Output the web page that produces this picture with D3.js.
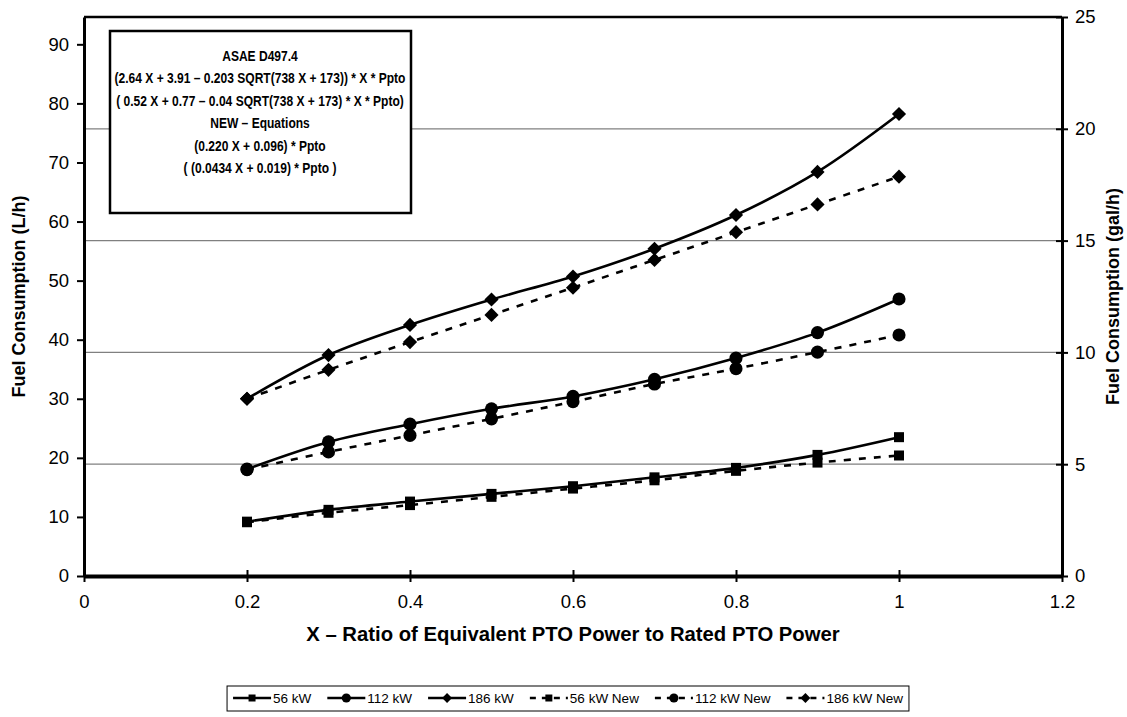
<!DOCTYPE html>
<html>
<head>
<meta charset="utf-8">
<script src="https://cdn.jsdelivr.net/npm/d3@7"></script>
<style>
  body { margin: 0; background: #fff; }
  svg text { font-family: "Liberation Sans", Arial, sans-serif; fill: #000; }
</style>
</head>
<body>
<svg id="chart" width="1127" height="717"></svg>
<script>
// data, fuel use in L/h
const ratio = [0.2, 0.3, 0.4, 0.5, 0.6, 0.7, 0.8, 0.9, 1.0];
const kw56 = [9.2, 11.2, 12.6, 13.9, 15.2, 16.7, 18.3, 20.5, 23.5];
const kw112 = [18.1, 22.7, 25.7, 28.3, 30.4, 33.3, 36.9, 41.2, 46.9];
const kw186 = [30.0, 37.4, 42.5, 46.8, 50.7, 55.4, 61.1, 68.4, 78.2];
const kw56New = [9.1, 10.7, 12.0, 13.4, 14.8, 16.2, 17.8, 19.2, 20.4];
const kw112New = [18.0, 21.0, 23.8, 26.6, 29.5, 32.5, 35.1, 37.9, 40.8];
const kw186New = [30.0, 34.9, 39.6, 44.2, 48.8, 53.5, 58.2, 62.9, 67.6];

const seriesNames = ["56 kW", "112 kW", "186 kW", "56 kW New", "112 kW New", "186 kW New"];
const xTicks = [0, 0.2, 0.4, 0.6, 0.8, 1, 1.2];
const leftTicks = [0, 10, 20, 30, 40, 50, 60, 70, 80, 90];
const rightTicks = [0, 5, 10, 15, 20, 25];
const boxLines = [
  "ASAE D497.4",
  "(2.64 X + 3.91 \u2013 0.203 SQRT(738 X + 173)) * X * Ppto",
  "( 0.52 X + 0.77 \u2013 0.04 SQRT(738 X + 173) * X * Ppto)",
  "NEW \u2013 Equations",
  "(0.220 X + 0.096) * Ppto",
  "( (0.0434 X + 0.019) * Ppto )"
];

const LITRES_PER_GAL = 3.785;

const svg = d3.select("#chart");
const plotL = 84, plotR = 1062, plotT = 17, plotB = 576;

const x = d3.scaleLinear().domain([0, 1.2]).range([plotL, plotR]);
const yGal = d3.scaleLinear().domain([0, 25]).range([plotB, plotT]);
const yL = d3.scaleLinear().domain([0, 25 * LITRES_PER_GAL]).range([plotB, plotT]);

// gridlines follow the gal/h axis
svg.append("g")
  .selectAll("line")
  .data(rightTicks.filter(d => d > 0 && d < 25))
  .join("line")
  .attr("x1", plotL).attr("x2", plotR)
  .attr("y1", d => yGal(d)).attr("y2", d => yGal(d))
  .attr("stroke", "#808080").attr("stroke-width", 1.2);

// top border of plot area
svg.append("line")
  .attr("x1", plotL).attr("x2", plotR).attr("y1", plotT).attr("y2", plotT)
  .attr("stroke", "#000").attr("stroke-width", 2.5);

// axes
const leftAxis = svg.append("g")
  .attr("transform", `translate(${plotL},0)`)
  .call(d3.axisLeft(yL).tickValues(leftTicks).tickSize(7).tickSizeOuter(0).tickPadding(8));

const rightAxis = svg.append("g")
  .attr("transform", `translate(${plotR},0)`)
  .call(d3.axisRight(yGal).tickValues(rightTicks).tickSize(6).tickSizeOuter(0).tickPadding(7));
rightAxis.selectAll(".tick line").attr("x1", -6);

const bottomAxis = svg.append("g")
  .attr("transform", `translate(0,${plotB})`)
  .call(d3.axisBottom(x).tickValues(xTicks).tickFormat(d => String(d)).tickSize(6).tickSizeOuter(0).tickPadding(13));
bottomAxis.selectAll(".tick line").attr("y1", -6);

[leftAxis, rightAxis, bottomAxis].forEach(g => {
  g.select(".domain").attr("stroke", "#000").attr("stroke-width", 3);
  g.selectAll(".tick line").attr("stroke", "#000").attr("stroke-width", 2);
  g.selectAll(".tick text").attr("font-size", 18.5).attr("fill", "#000");
});
bottomAxis.select(".domain").attr("stroke-width", 4);

// axis titles
svg.append("text")
  .attr("transform", `translate(19,${(plotT + plotB) / 2}) rotate(-90)`)
  .attr("text-anchor", "middle").attr("dy", "0.35em")
  .attr("font-size", 18).attr("font-weight", "bold")
  .text("Fuel Consumption (L/h)");

svg.append("text")
  .attr("transform", `translate(1113,${(plotT + plotB) / 2}) rotate(-90)`)
  .attr("text-anchor", "middle").attr("dy", "0.35em")
  .attr("font-size", 18).attr("font-weight", "bold")
  .text("Fuel Consumption (gal/h)");

svg.append("text")
  .attr("x", (plotL + plotR) / 2).attr("y", 641)
  .attr("text-anchor", "middle")
  .attr("font-size", 20.3).attr("font-weight", "bold")
  .text("X \u2013 Ratio of Equivalent PTO Power to Rated PTO Power");

// series
const allSeries = [kw56, kw112, kw186, kw56New, kw112New, kw186New];
const markers = ["square", "circle", "diamond", "square", "circle", "diamond"];

function markerPath(type, big) {
  const k = big ? 1 : 0.7;
  if (type === "circle") return d3.symbol(d3.symbolCircle, 135 * k * k)();
  return d3.symbol(d3.symbolSquare, 100 * k * k)();
}

const line = d3.line()
  .x((d, i) => x(ratio[i]))
  .y(d => yL(d))
  .curve(d3.curveCatmullRom.alpha(0.5));

allSeries.forEach((vals, s) => {
  const dashed = s >= 3;
  svg.append("path")
    .attr("d", line(vals))
    .attr("fill", "none")
    .attr("stroke", "#000")
    .attr("stroke-width", 2.6)
    .attr("stroke-dasharray", dashed ? "7,8" : null);

  svg.append("g")
    .selectAll("path")
    .data(vals)
    .join("path")
    .attr("d", markerPath(markers[s], true))
    .attr("transform", (d, i) => `translate(${x(ratio[i])},${yL(d)})` + (markers[s] === "diamond" ? " rotate(45)" : ""))
    .attr("fill", "#000");
});

// equation box (text is a bit narrow in the original, so squeeze it)
svg.append("rect")
  .attr("x", 110).attr("y", 31).attr("width", 301).attr("height", 182)
  .attr("fill", "#fff").attr("stroke", "#000").attr("stroke-width", 2.5);

svg.append("g")
  .attr("transform", "translate(260,0) scale(0.86,1)")
  .selectAll("text")
  .data(boxLines)
  .join("text")
  .attr("x", 0)
  .attr("y", (d, i) => 61 + i * 22.5)
  .attr("text-anchor", "middle")
  .attr("font-size", 14).attr("font-weight", "bold")
  .text(d => d);

// legend
const legend = svg.append("g");
const legendBox = legend.append("rect")
  .attr("fill", "#fff").attr("stroke", "#000").attr("stroke-width", 1);

let cx = 0;
const segLen = 38, legendY = 698;
const items = legend.append("g");
seriesNames.forEach((name, s) => {
  const g = items.append("g").attr("transform", `translate(${cx},0)`);
  g.append("line")
    .attr("x1", 0).attr("x2", segLen).attr("y1", legendY).attr("y2", legendY)
    .attr("stroke", "#000").attr("stroke-width", 2.5)
    .attr("stroke-dasharray", s >= 3 ? "6,6" : null);
  g.append("path")
    .attr("d", markerPath(markers[s], false))
    .attr("transform", `translate(${segLen / 2},${legendY})` + (markers[s] === "diamond" ? " rotate(45)" : ""))
    .attr("fill", "#000");
  const t = g.append("text")
    .attr("x", segLen + 2).attr("y", legendY).attr("dy", "0.35em")
    .attr("font-size", 13.5)
    .text(name);
  cx += segLen + 2 + t.node().getComputedTextLength() + 16;
});
const totalW = cx - 16;
const legendLeft = 568 - totalW / 2;
items.attr("transform", `translate(${legendLeft},0)`);
legendBox
  .attr("x", legendLeft - 6).attr("y", 686)
  .attr("width", totalW + 12).attr("height", 25);
</script>
</body>
</html>
